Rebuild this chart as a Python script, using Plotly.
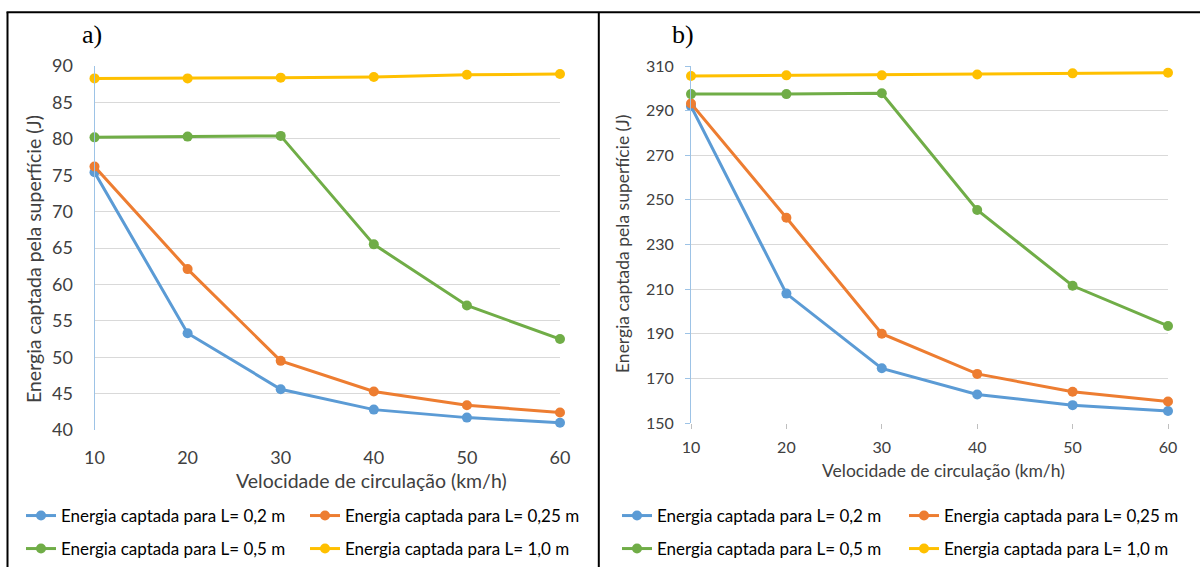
import plotly.graph_objects as go

W, H = 1200, 567

speeds = [10, 20, 30, 40, 50, 60]
series_names = [
    "Energia captada para L= 0,2 m",
    "Energia captada para L= 0,25 m",
    "Energia captada para L= 0,5 m",
    "Energia captada para L= 1,0 m",
]
series_colors = ["#5B9BD5", "#ED7D31", "#70AD47", "#FFC000"]

# panel a)
a_L020 = [75.4, 53.3, 45.6, 42.8, 41.7, 41.0]
a_L025 = [76.2, 62.1, 49.5, 45.3, 43.4, 42.4]
a_L050 = [80.2, 80.3, 80.4, 65.5, 57.1, 52.5]
a_L100 = [88.3, 88.3, 88.4, 88.5, 88.8, 88.9]

# panel b)
b_L020 = [292.0, 208.0, 174.5, 162.8, 158.0, 155.4]
b_L025 = [293.2, 242.0, 190.0, 172.0, 164.0, 159.6]
b_L050 = [297.4, 297.4, 297.8, 245.5, 211.5, 193.5]
b_L100 = [305.5, 305.8, 305.8, 306.2, 306.7, 307.0]

x_title = "Velocidade de circulação (km/h)"
y_title = "Energia captada pela superfície (J)"

FONT = "Lato"
TXT = "#404040"


def px_x(p):
    return p / W


def px_y(p):
    return 1 - p / H


fig = go.Figure()

panel_a = [a_L020, a_L025, a_L050, a_L100]
panel_b = [b_L020, b_L025, b_L050, b_L100]

legend_ids = {}
k = 1
for p in range(2):
    for i in range(4):
        legend_ids[(p, i)] = "legend" if k == 1 else f"legend{k}"
        k += 1

for p, (data, xa, ya) in enumerate([(panel_a, "x", "y"), (panel_b, "x2", "y2")]):
    for i, vals in enumerate(data):
        fig.add_trace(go.Scatter(
            x=speeds, y=vals, xaxis=xa, yaxis=ya,
            mode="lines+markers", name=series_names[i],
            line=dict(color=series_colors[i], width=3),
            marker=dict(color=series_colors[i], size=10),
            cliponaxis=False, showlegend=True,
            legend=legend_ids[(p, i)],
        ))

# legend text start (px) per column, row centres (px)
leg_text_x = {0: [61, 345], 1: [657, 944]}
leg_rows = [516, 549]
layout_legends = {}
for p in range(2):
    for i in range(4):
        col = i % 2
        row = i // 2
        lid = legend_ids[(p, i)]
        layout_legends[lid] = dict(
            x=px_x(leg_text_x[p][col] - 40), y=px_y(leg_rows[row]),
            xanchor="left", yanchor="middle",
            bgcolor="rgba(0,0,0,0)", borderwidth=0,
            font=dict(family=FONT, size=17, color="#000000"),
            itemwidth=30,
        )

common_y = dict(
    showgrid=True, gridcolor="#D9D9D9", gridwidth=1,
    showline=True, linecolor="#9DC3E6", linewidth=1,
    zeroline=False, automargin=False,
)
common_x = dict(showgrid=False, zeroline=False, showline=False, automargin=False)

fig.update_layout(
    width=W, height=H, showlegend=True,
    margin=dict(l=0, r=0, t=0, b=0, pad=0, autoexpand=False),
    paper_bgcolor="white", plot_bgcolor="white",
    font=dict(family=FONT, color=TXT),
    xaxis=dict(domain=[px_x(94.5), px_x(560)], range=[10, 60], tickvals=speeds,
               tickfont=dict(size=18, color=TXT), ticks="", ticklabelstandoff=15,
               **common_x),
    yaxis=dict(domain=[px_y(430), px_y(66)], range=[40, 90], dtick=5, tick0=40,
               tickfont=dict(size=18, color=TXT), ticks="", ticklabelstandoff=17,
               anchor="x", **common_y),
    xaxis2=dict(domain=[px_x(691), px_x(1168)], range=[10, 60], tickvals=speeds,
                tickfont=dict(size=16, color=TXT), ticks="outside", ticklen=5,
                tickcolor="#BFBFBF", ticklabelstandoff=5, anchor="y2", **common_x),
    yaxis2=dict(domain=[px_y(423), px_y(66)], range=[150, 310], dtick=20, tick0=150,
                tickfont=dict(size=16, color=TXT), ticks="outside", ticklen=5,
                tickcolor="#9DC3E6", ticklabelstandoff=8, anchor="x2", **common_y),
    **layout_legends,
)

annotations = [
    dict(text=x_title, x=px_x(371), y=px_y(480), font=dict(size=19.5, color=TXT)),
    dict(text=x_title, x=px_x(943), y=px_y(470), font=dict(size=17.5, color=TXT)),
    dict(text=y_title, x=px_x(33), y=px_y(259), textangle=-90, font=dict(size=19.5, color=TXT)),
    dict(text=y_title, x=px_x(622), y=px_y(244), textangle=-90, font=dict(size=17.5, color=TXT)),
    dict(text="a)", x=px_x(92), y=px_y(34),
         font=dict(family="Liberation Serif", size=26, color="#000000")),
    dict(text="b)", x=px_x(683), y=px_y(34),
         font=dict(family="Liberation Serif", size=26, color="#000000")),
]
for a in annotations:
    a.update(xref="paper", yref="paper", showarrow=False, xanchor="center", yanchor="middle")
fig.update_layout(annotations=annotations)

border = dict(color="#000000", width=2)
fig.update_layout(shapes=[
    dict(type="line", xref="paper", yref="paper", x0=px_x(6.5), x1=1.0, y0=px_y(12.3), y1=px_y(12.3), line=border),
    dict(type="line", xref="paper", yref="paper", x0=px_x(7.5), x1=px_x(7.5), y0=px_y(12.3), y1=0, line=border),
    dict(type="line", xref="paper", yref="paper", x0=px_x(598.8), x1=px_x(598.8), y0=px_y(12.3), y1=0, line=border),
])

fig.write_html(
    "out.html",
    post_script="document.body.style.margin='0';",
)
